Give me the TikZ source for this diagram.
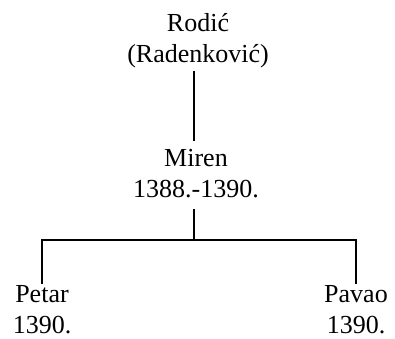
\documentclass[tikz,border=0pt]{standalone}
\usepackage{fontspec}
\setmainfont{Liberation Serif}
\begin{document}
\begin{tikzpicture}[x=1pt,y=1pt,
  person/.style={align=center,inner sep=0pt,font=\fontsize{26}{31}\selectfont},
  link/.style={line width=1.5pt}]
\useasboundingbox (0,0) rectangle (395,338);
\node[person] (rod) at (198,297) {Rodić\\(Radenković)};
\node[person] (mir) at (196,164) {Miren\\1388.-1390.};
\node[person] (pet) at (42,28) {Petar\\1390.};
\node[person] (pav) at (356,28) {Pavao\\1390.};
\coordinate (fork) at (194,98);
\path (rod.south -| fork) ++(0,-2) coordinate (rodb) (mir.north -| fork) ++(0,9) coordinate (mirt);
\draw[link] (rodb) -- (mirt);
\path (mir.south -| fork) ++(0,-11) coordinate (mirb);
\draw[link] (mirb) -- (fork);
\path (pet.north) ++(0,2) coordinate (pett);
\path (pav.north) ++(0,2) coordinate (pavt);
\draw[link] (pett) -- (pett |- fork) -- (pavt |- fork) -- (pavt);
\end{tikzpicture}
\end{document}
